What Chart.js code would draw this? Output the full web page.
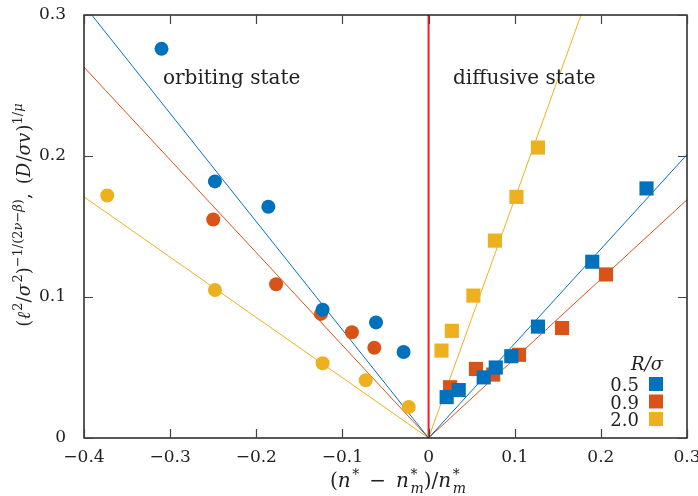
<!DOCTYPE html>
<html>
<head>
<meta charset="utf-8">
<script src="https://cdn.jsdelivr.net/npm/chart.js@4.4.0/dist/chart.umd.min.js"></script>
<style>
  html, body { margin: 0; padding: 0; background: #fff; }
  #wrap { width: 698px; height: 496px; }
</style>
</head>
<body>
<div id="wrap"><canvas id="stateChart" width="698" height="496"></canvas></div>
<script>
// orbiting state (circles), n* < n*_m
const blueOrbX = [-0.310, -0.248, -0.186, -0.123, -0.061, -0.029];
const blueOrbY = [0.276, 0.182, 0.164, 0.091, 0.082, 0.061];
const orangeOrbX = [-0.250, -0.177, -0.125, -0.089, -0.063];
const orangeOrbY = [0.155, 0.109, 0.088, 0.075, 0.064];
const yellowOrbX = [-0.373, -0.248, -0.123, -0.073, -0.023];
const yellowOrbY = [0.172, 0.105, 0.053, 0.041, 0.022];

// diffusive state (squares), n* > n*_m
const blueDifX = [0.021, 0.035, 0.064, 0.078, 0.096, 0.127, 0.190, 0.253];
const blueDifY = [0.029, 0.034, 0.043, 0.050, 0.058, 0.079, 0.125, 0.177];
const orangeDifX = [0.025, 0.055, 0.075, 0.105, 0.155, 0.206];
const orangeDifY = [0.036, 0.049, 0.045, 0.059, 0.078, 0.116];
const yellowDifX = [0.015, 0.027, 0.052, 0.077, 0.102, 0.127];
const yellowDifY = [0.062, 0.076, 0.101, 0.140, 0.171, 0.206];

// fitted lines through the origin
const blueFitX = [-0.391, 0, 0.3];
const blueFitY = [0.3, 0, 0.201];
const orangeFitX = [-0.4, 0, 0.3];
const orangeFitY = [0.263, 0, 0.169];
const yellowFitX = [-0.4, 0, 0.177];
const yellowFitY = [0.171, 0, 0.3];

// transition line
const transX = [0, 0];
const transY = [0, 0.3];

const legendLabels = ['0.5', '0.9', '2.0'];
const xTicks = [-0.4, -0.3, -0.2, -0.1, 0, 0.1, 0.2, 0.3];
const yTicks = [0, 0.1, 0.2, 0.3];

const BLUE = '#0072BD', ORANGE = '#D95319', YELLOW = '#EDB120';
const colors = [BLUE, ORANGE, YELLOW];
const FONT = '"DejaVu Serif", serif';

function pts(xs, ys) { return xs.map((x, i) => ({ x: x, y: ys[i] })); }

function tickText(v) {
    if (Math.abs(v) < 1e-9) return '0';
    return (v < 0 ? '\u2212' : '') + Math.abs(v).toFixed(1);
}

function scatterSet(xs, ys, color, shape, r) {
    return {
        type: 'scatter', data: pts(xs, ys), backgroundColor: color,
        borderWidth: 0, pointStyle: shape, pointRadius: r, pointHoverRadius: r, order: 1
    };
}
function lineSet(xs, ys, color, w) {
    return {
        type: 'line', data: pts(xs, ys), borderColor: color, borderWidth: w,
        pointRadius: 0, fill: false, tension: 0, order: 2
    };
}

// draws a run of text pieces: [text, kind] kind: n, i, sup, supi, sub, subi, ss (sup+sub stacked)
function drawRich(ctx, parts, size) {
    const small = Math.round(size * 0.7);
    function fontFor(kind) {
        const it = kind === 'i' || kind === 'supi' || kind === 'subi';
        const sz = (kind === 'n' || kind === 'i') ? size : small;
        return (it ? 'italic ' : '') + sz + 'px ' + FONT;
    }
    function widthOf(p) {
        let w;
        if (p[1] === 'ss') {
            ctx.font = fontFor('sup'); const a = ctx.measureText(p[0]).width;
            ctx.font = fontFor('subi'); const b = ctx.measureText(p[2]).width;
            w = Math.max(a, b);
        } else {
            ctx.font = fontFor(p[1]);
            w = ctx.measureText(p[0]).width;
        }
        if (p[1] === 'i') w += size * 0.08; // italic overhang
        return w;
    }
    let total = 0;
    parts.forEach(p => total += widthOf(p));
    let x = -total / 2;
    ctx.textBaseline = 'alphabetic';
    ctx.textAlign = 'left';
    parts.forEach(p => {
        const k = p[1];
        let dy = 0;
        if (k === 'sup' || k === 'supi') dy = -size * 0.42;
        if (k === 'sub' || k === 'subi') dy = size * 0.22;
        if (k === 'ss') {
            ctx.font = fontFor('sup'); ctx.fillText(p[0], x, -size * 0.38);
            ctx.font = fontFor('subi'); ctx.fillText(p[2], x, size * 0.28);
        } else {
            ctx.font = fontFor(k);
            ctx.fillText(p[0], x, dy);
        }
        x += widthOf(p);
    });
}

const xTitle = [['(', 'n'], ['n', 'i'], ['*', 'sup'], ['\u2002\u2212\u2002', 'n'], ['n', 'i'], ['*', 'ss', 'm'],
    [')/', 'n'], ['n', 'i'], ['*', 'ss', 'm']];
const yTitle = [['(', 'n'], ['\u2113', 'i'], ['2', 'sup'], ['/', 'n'], ['\u03c3', 'i'], ['2', 'sup'], [')', 'n'],
    ['\u22121/(2', 'sup'], ['\u03bd', 'supi'], ['\u2212', 'sup'], ['\u03b2', 'supi'], [')', 'sup'],
    [',\u2002(', 'n'], ['D', 'i'], ['/', 'n'], ['\u03c3v', 'i'], [')', 'n'], ['1/', 'sup'], ['\u03bc', 'supi']];

const decor = {
    id: 'decor',
    afterDraw(chart) {
        const ctx = chart.ctx, a = chart.chartArea;
        const xs = chart.scales.x, ys = chart.scales.y;
        ctx.save();
        // frame
        ctx.strokeStyle = '#000';
        ctx.lineWidth = 1.3;
        ctx.strokeRect(a.left, a.top, a.right - a.left, a.bottom - a.top);
        // inward ticks
        ctx.lineWidth = 1.2;
        ctx.strokeStyle = '#444';
        xTicks.forEach(v => {
            const px = Math.round(xs.getPixelForValue(v)) + 0.5;
            ctx.beginPath();
            ctx.moveTo(px, a.bottom); ctx.lineTo(px, a.bottom - 9);
            ctx.moveTo(px, a.top); ctx.lineTo(px, a.top + 9);
            ctx.stroke();
        });
        yTicks.forEach(v => {
            const py = Math.round(ys.getPixelForValue(v)) + 0.5;
            ctx.beginPath();
            ctx.moveTo(a.left, py); ctx.lineTo(a.left + 9, py);
            ctx.moveTo(a.right, py); ctx.lineTo(a.right - 9, py);
            ctx.stroke();
        });
        // region labels
        ctx.fillStyle = '#222';
        ctx.font = '20px ' + FONT;
        ctx.textBaseline = 'alphabetic';
        ctx.textAlign = 'left';
        ctx.fillText('orbiting state', 163, 84);
        ctx.fillText('diffusive state', 453, 84);
        // legend
        ctx.textAlign = 'right';
        ctx.font = 'italic 18px ' + FONT;
        ctx.fillText('R/\u03c3', 663, 370);
        ctx.font = '18px ' + FONT;
        legendLabels.forEach((t, i) => {
            const cy = 384 + i * 17.5;
            ctx.fillStyle = '#222';
            ctx.fillText(t, 639, cy + 7);
            ctx.fillStyle = colors[i];
            ctx.fillRect(649, cy - 7, 14, 14);
        });
        // axis titles
        ctx.fillStyle = '#222';
        ctx.save();
        ctx.translate(398, 487);
        drawRich(ctx, xTitle, 20);
        ctx.restore();
        ctx.save();
        ctx.translate(30, 215);
        ctx.rotate(-Math.PI / 2);
        drawRich(ctx, yTitle, 18);
        ctx.restore();
        ctx.restore();
    }
};

const ctx = document.getElementById('stateChart').getContext('2d');

let stateChart = new Chart(ctx, {
    data: {
        datasets: [
            scatterSet(blueOrbX, blueOrbY, BLUE, 'circle', 7),
            scatterSet(orangeOrbX, orangeOrbY, ORANGE, 'circle', 7),
            scatterSet(yellowOrbX, yellowOrbY, YELLOW, 'circle', 7),
            scatterSet(blueDifX, blueDifY, BLUE, 'rect', 10),
            scatterSet(orangeDifX, orangeDifY, ORANGE, 'rect', 10),
            scatterSet(yellowDifX, yellowDifY, YELLOW, 'rect', 10),
            lineSet(blueFitX, blueFitY, BLUE, 1),
            lineSet(orangeFitX, orangeFitY, ORANGE, 1),
            lineSet(yellowFitX, yellowFitY, YELLOW, 1),
            lineSet(transX, transY, '#ff1a1a', 2)
        ]
    },
    options: {
        responsive: false,
        animation: false,
        layout: { padding: { top: 15, right: 11, left: 0, bottom: 0 } },
        plugins: { legend: { display: false }, tooltip: { enabled: false } },
        scales: {
            x: {
                type: 'linear', min: -0.4, max: 0.3,
                afterBuildTicks: s => { s.ticks = xTicks.map(v => ({ value: v })); },
                afterFit: s => { s.height = 58; s.paddingLeft = 0; s.paddingRight = 0; },
                grid: { display: false, drawTicks: false },
                border: { display: false },
                ticks: {
                    padding: 9, color: '#222', maxRotation: 0, autoSkip: false,
                    font: { family: FONT, size: 17 },
                    callback: v => tickText(v)
                }
            },
            y: {
                type: 'linear', min: 0, max: 0.3,
                afterBuildTicks: s => { s.ticks = yTicks.map(v => ({ value: v })); },
                afterFit: s => { s.width = 84; s.paddingTop = 0; s.paddingBottom = 0; },
                grid: { display: false, drawTicks: false },
                border: { display: false },
                ticks: {
                    padding: 18, color: '#222',
                    font: { family: FONT, size: 17 },
                    callback: v => tickText(v)
                }
            }
        }
    },
    plugins: [decor]
});
</script>
</body>
</html>
